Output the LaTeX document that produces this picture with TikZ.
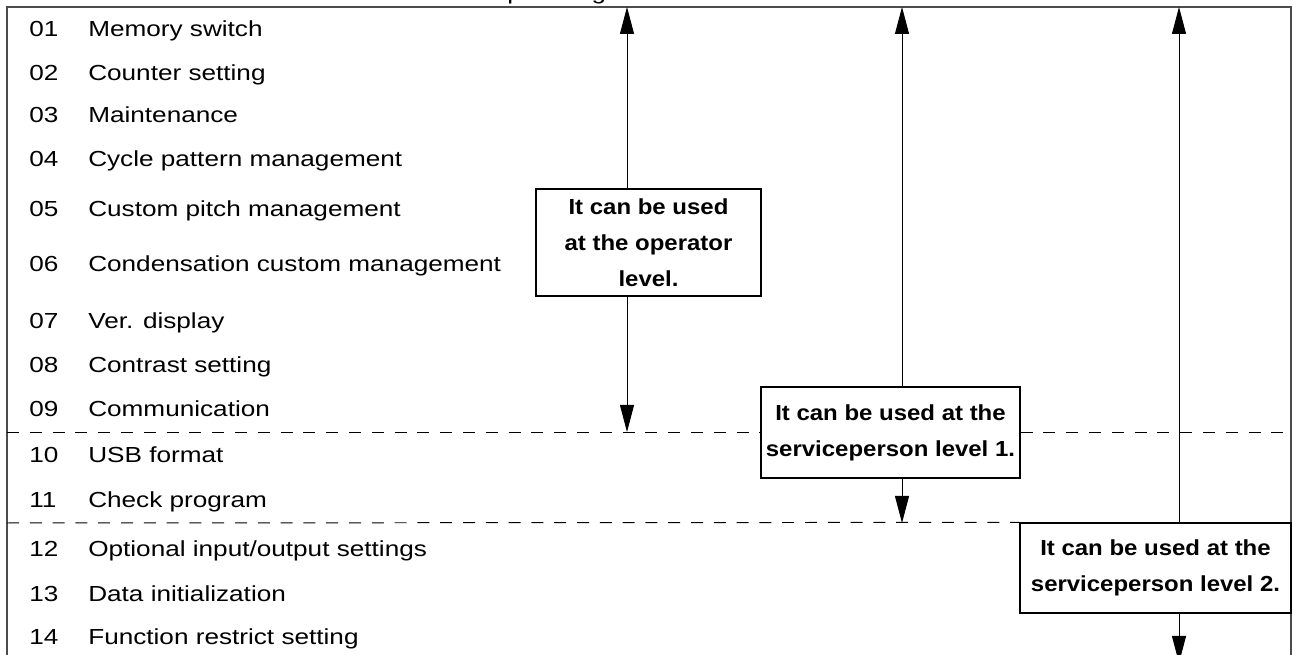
\documentclass[tikz,border=0pt]{standalone}
\usepackage{fontspec}
\setmainfont{Liberation Sans}
\newfontfamily\rowfont[FakeStretch=1.2]{Liberation Sans}
\newfontfamily\boxfont[FakeStretch=1.1]{Liberation Sans}
\usetikzlibrary{arrows.meta,positioning}
\tikzset{
  outline/.style={draw=black!70, line width=1.4pt},
  leveldash/.style={black, line width=0.7pt, dash pattern=on 3mm off 2.7mm},
  itemtext/.style={anchor=base west, inner sep=0pt,
                   font=\rowfont\fontsize{15.5}{18}\selectfont},
  levelbox/.style={draw=black, line width=0.9pt, fill=white,
                   inner sep=0pt, align=center,
                   font=\boxfont\bfseries\fontsize{15.5}{25.6}\selectfont},
  flow/.style={-{Triangle[length=6.75mm,width=3.5mm]}, line width=0.7pt},
}

\begin{document}
\begin{tikzpicture}[x=1cm,y=1cm]
  \useasboundingbox (0,0) rectangle (32.325,16.375);

  % Outer frame, open at the bottom.
  \draw[outline] (0.175,-0.3) |- (32.275,16.2) -- (32.275,-0.3);
  \node[itemtext] (cut) at (12.675,16.39) {p setting};

  % Menu items.
  \foreach \num/\txt/\yy in {01/Memory switch/15.45,
                             02/Counter setting/14.35,
                             03/Maintenance/13.3,
                             04/Cycle pattern management/12.2,
                             05/Custom pitch management/10.95,
                             06/Condensation custom management/9.575,
                             07/Ver. display/8.15,
                             08/Contrast setting/7.05,
                             09/Communication/5.95,
                             10/USB format/4.8,
                             11/Check program/3.675,
                             12/{Optional input/output settings}/2.45,
                             13/Data initialization/1.325,
                             14/Function restrict setting/0.25}{
    \node[itemtext] (no\num) at (0.725,\yy) {\num};
    \node[itemtext] (it\num) at (2.2,\yy) {\txt};
  }

  % Level boxes.
  \node[levelbox, minimum width=56.25mm, minimum height=26.75mm] (oper)
    at (16.2125,10.3125) {It can be used\\at the operator\\level.};
  \node[levelbox, minimum width=64.75mm, minimum height=22.75mm] (serv1)
    at (22.2625,5.5625) {It can be used at the\\serviceperson level 1.};
  \node[levelbox, minimum width=67.75mm, minimum height=22.5mm] (serv2)
    at (28.8875,2.175) {It can be used at the\\serviceperson level 2.};

  % Level borders.
  \coordinate (dashA) at (0.175,5.575);
  \coordinate (dashB) at (0.175,3.3);
  \coordinate (dashR) at (32.275,5.575);
  \draw[leveldash] (dashA) -- (dashA -| serv1.west);
  \draw[leveldash] (dashA -| serv1.east) -- (dashR);
  \draw[leveldash] (dashB) -- (serv2.north west);

  % Ranges.
  \coordinate (topA) at (15.675,16.2);
  \coordinate (topB) at (22.55,16.2);
  \coordinate (topC) at (29.475,16.2);
  \coordinate (endA) at (15.675,5.575);
  \coordinate (endB) at (22.55,3.3);
  \coordinate (endC) at (29.475,-0.2);
  \draw[flow] (topA |- oper.north) -- (topA);
  \draw[flow] (topA |- oper.south) -- (endA);
  \draw[flow] (topB |- serv1.north) -- (topB);
  \draw[flow] (topB |- serv1.south) -- (endB);
  \draw[flow] (topC |- serv2.north) -- (topC);
  \draw[flow] (topC |- serv2.south) -- (endC);
\end{tikzpicture}
\end{document}
